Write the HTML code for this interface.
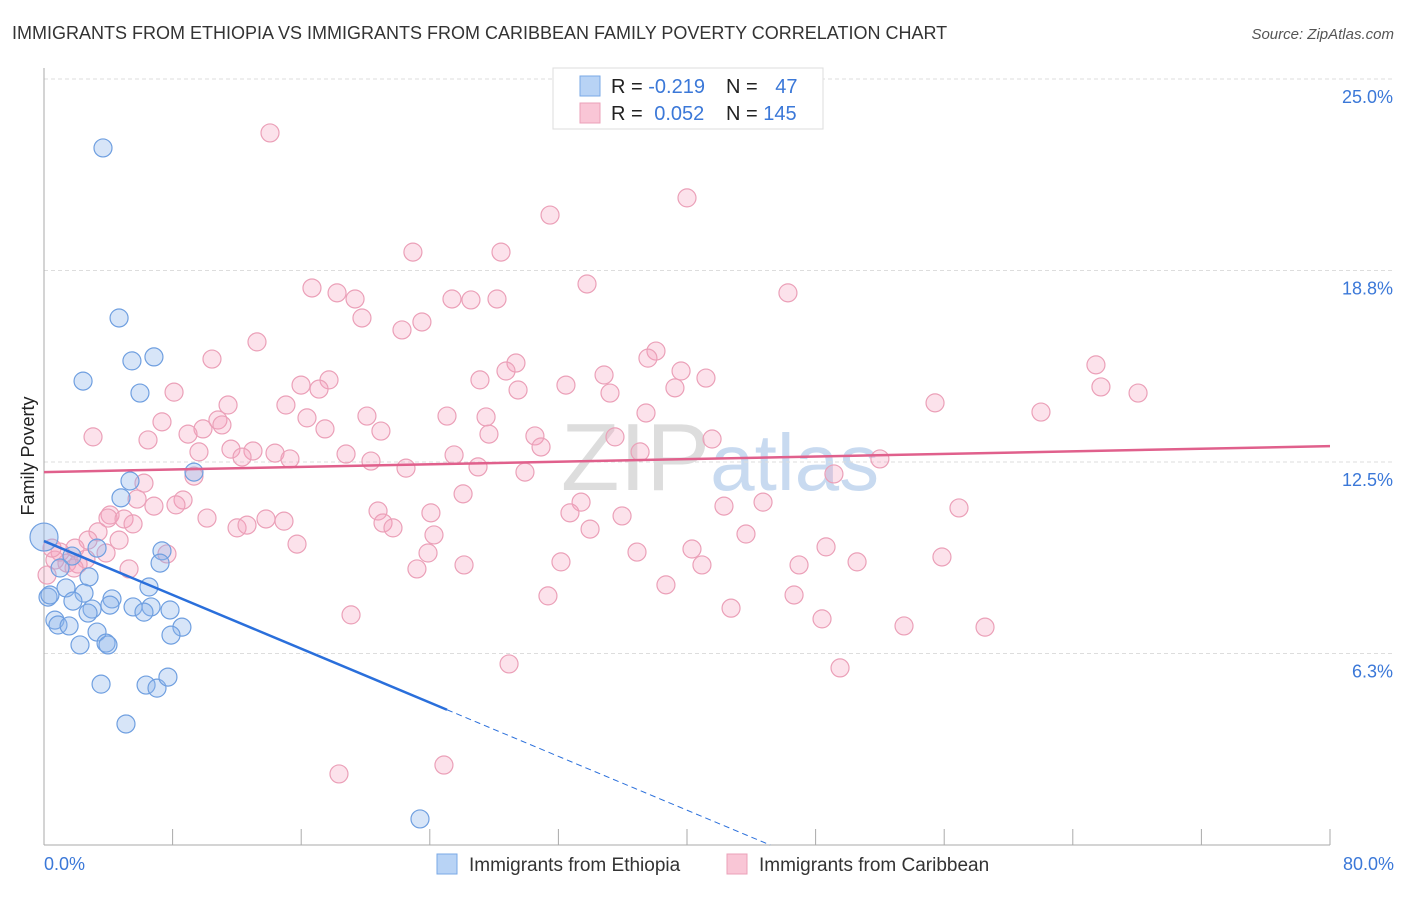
<!DOCTYPE html>
<html><head><meta charset="utf-8"><style>
body{margin:0;background:#fff;font-family:"Liberation Sans",sans-serif;}
svg text{font-family:"Liberation Sans",sans-serif;}
</style></head><body>
<svg width="1406" height="892">
<text x="12" y="39" font-size="18" fill="#333">IMMIGRANTS FROM ETHIOPIA VS IMMIGRANTS FROM CARIBBEAN FAMILY POVERTY CORRELATION CHART</text>
<text x="1394" y="39" font-size="15" fill="#555" font-style="italic" text-anchor="end">Source: ZipAtlas.com</text>
<text x="720" y="490" font-size="96" fill="#ddd" text-anchor="middle" font-family="Liberation Serif">ZIP<tspan fill="#c8daf0" font-family="Liberation Sans" font-size="80">atlas</tspan></text>
<g id="grid"></g>
<g id="axes"></g>
<g id="marks"></g>
<text transform="translate(34,456) rotate(-90)" font-size="18" fill="#222" text-anchor="middle">Family Poverty</text>
<text x="44" y="870" font-size="18" fill="#3b78d8">0.0%</text>
<text x="1394" y="870" font-size="18" fill="#3b78d8" text-anchor="end">80.0%</text>
<g>
<rect x="553" y="68" width="270" height="61" fill="#fff" stroke="#ddd"/>
<rect x="580" y="76" width="20" height="20" fill="#b8d3f5" stroke="#7aa8e6"/>
<rect x="580" y="103" width="20" height="20" fill="#f9c6d6" stroke="#eba0b8"/>
<text x="611" y="93" font-size="20" fill="#222">R = <tspan fill="#3b78d8">-0.219</tspan></text>
<text x="726" y="93" font-size="20" fill="#222">N = <tspan fill="#3b78d8" dx="12">47</tspan></text>
<text x="611" y="120" font-size="20" fill="#222">R = <tspan fill="#3b78d8" dx="6">0.052</tspan></text>
<text x="726" y="120" font-size="20" fill="#222">N = <tspan fill="#3b78d8">145</tspan></text>
</g>
<g>
<rect x="437" y="854" width="20" height="20" fill="#b8d3f5" stroke="#7aa8e6"/>
<text x="469" y="871" font-size="19" fill="#333">Immigrants from Ethiopia</text>
<rect x="727" y="854" width="20" height="20" fill="#f9c6d6" stroke="#eba0b8"/>
<text x="759" y="871" font-size="19" fill="#333">Immigrants from Caribbean</text>
</g>
</svg>
<script>
const yTicks=[6.25,12.5,18.75,25];
const yTickLabels=["6.3%","12.5%","18.8%","25.0%"];
const xTicks=[0,8,16,24,32,40,48,56,64,72,80];
const blueX=[3.67,4.67,2.43,5.47,6.84,5.97,5.35,4.79,9.33,3.3,7.34,1.74,7.22,1.0,2.8,6.53,1.37,0.25,2.49,4.23,1.8,4.1,2.99,5.54,6.66,2.74,6.22,7.84,0.68,0.87,1.56,8.58,3.3,7.9,2.24,3.86,3.98,3.55,6.35,7.03,7.71,5.1,23.39,0.37];
const blueY=[22.75,17.2,15.14,15.8,15.93,14.75,11.88,11.33,12.17,9.69,9.6,9.43,9.2,9.04,8.75,8.42,8.39,8.09,8.22,8.03,7.96,7.83,7.7,7.77,7.77,7.57,7.6,7.67,7.34,7.18,7.15,7.11,6.95,6.85,6.53,6.59,6.53,5.25,5.22,5.12,5.48,3.95,0.85,8.16];
const pinkX=[14.06,40.0,31.48,22.95,28.43,33.78,16.67,18.23,19.35,25.38,26.56,28.18,46.28,19.78,23.51,22.27,13.25,38.07,10.45,37.57,29.36,65.44,28.74,39.63,34.84,27.12,41.18,15.99,17.73,32.47,8.09,17.11,65.75,29.49,35.21,39.25,68.06,11.45,55.43,15.05,62.02,10.82,16.36,20.09,25.07,27.5,37.45,7.34,11.07,9.89,20.96,17.48,8.96,3.05,6.47,27.68,30.54,35.52,41.56,30.92,25.51,11.63,13.0,14.37,12.32,9.64,15.3,18.79,20.34,27.0,37.08,22.52,29.92,52.0,49.14,9.33,6.22,8.65,5.79,8.21,26.07,33.41,6.84,4.11,3.98,4.98,10.14,20.78,44.73,42.3,32.72,24.07,13.81,14.93,56.92,21.09,21.71,5.54,3.36,12.01,12.63,33.97,35.96,24.26,43.67,4.67,2.74,15.74,7.65,1.93,36.89,40.31,48.65,55.86,23.89,1.0,0.68,2.61,1.43,2.12,26.13,32.16,40.93,46.97,50.58,5.29,23.2,0.19,38.69,31.35,46.66,42.74,19.1,48.4,53.5,58.54,28.93,49.52,18.35,24.88,1.87,0.5,3.86];
const pinkY=[23.24,21.12,20.56,19.35,19.35,18.31,18.18,18.02,17.82,17.82,17.79,17.82,18.02,17.2,17.07,16.81,16.42,16.12,15.86,15.89,15.73,15.67,15.47,15.47,15.34,15.18,15.24,15.01,15.18,15.01,14.78,14.88,14.95,14.85,14.75,14.92,14.75,14.36,14.43,14.36,14.13,13.87,13.94,14.0,14.0,13.97,14.1,13.81,13.71,13.58,13.51,13.58,13.41,13.32,13.22,13.41,13.35,13.32,13.25,12.99,12.73,12.92,12.86,12.79,12.66,12.83,12.6,12.76,12.53,12.34,12.83,12.3,12.17,12.6,12.11,12.04,11.81,11.26,11.29,11.1,11.46,11.19,11.06,10.77,10.67,10.64,10.67,10.9,11.19,11.06,10.84,10.84,10.64,10.57,11.0,10.51,10.35,10.48,10.22,10.35,10.44,10.31,10.74,10.12,10.15,9.95,9.95,9.82,9.5,9.69,9.56,9.66,9.73,9.4,9.53,9.56,9.3,9.33,9.2,9.17,9.14,9.24,9.14,9.14,9.24,9.01,9.01,8.81,8.49,8.13,8.16,7.73,7.51,7.38,7.15,7.11,5.91,5.78,2.32,2.61,9.04,9.69,9.53];
const blueTrend=[9.92,-0.2196];
const blueSolidEnd=[25.07];
const pinkTrend=[12.17,0.0106];
const X=v=>44+v*1286/80;
const Y=v=>845-v*191.5/6.25;
const NS="http://www.w3.org/2000/svg";
function mk(parent,tag,attrs){const e=document.createElementNS(NS,tag);for(const k in attrs)e.setAttribute(k,attrs[k]);document.getElementById(parent).appendChild(e);return e;}
yTicks.forEach((t,i)=>{
 const l=mk('grid','line',{x1:44,x2:1394,y1:Y(t),y2:Y(t),stroke:'#ddd','stroke-dasharray':'4,3'});
 
 
 const tx=mk('grid','text',{x:1393,y:Y(t)+24,'font-size':18,fill:'#3b78d8','text-anchor':'end'});
 tx.textContent=yTickLabels[i];
 
 
});
const ya=mk('axes','line',{x1:44,x2:44,y1:68,y2:845,stroke:'#aaa'});


const xa=mk('axes','line',{x1:44,x2:1330,y1:845,y2:845,stroke:'#aaa'});


xTicks.forEach(t=>{
 const l=mk('axes','line',{x1:X(t),x2:X(t),y1:829,y2:845,stroke:'#aaa'});
 
 
});
pinkX.forEach((x,i)=>{
 const c=mk('marks','circle',{cx:X(x),cy:Y(pinkY[i]),r:9,fill:'rgba(244,160,188,0.3)',stroke:'#eba0b8','stroke-width':1.2});
 
 
});
blueX.forEach((x,i)=>{
 const c=mk('marks','circle',{cx:X(x),cy:Y(blueY[i]),r:9,fill:'rgba(140,180,235,0.35)',stroke:'#6f9fe0','stroke-width':1.2});
 
 
});
const big=mk('marks','circle',{cx:X(0),cy:Y(10.05),r:14,fill:'rgba(140,180,235,0.4)',stroke:'#6f9fe0','stroke-width':1.2});


const bx1=blueSolidEnd[0], bx2=-blueTrend[0]/blueTrend[1];
const bl=mk('marks','line',{x1:X(0),y1:Y(blueTrend[0]),x2:X(bx1),y2:Y(blueTrend[0]+blueTrend[1]*bx1),stroke:'#2a6fdb','stroke-width':2.5});


const bd=mk('marks','line',{x1:X(bx1),y1:Y(blueTrend[0]+blueTrend[1]*bx1),x2:X(bx2),y2:Y(0),stroke:'#2a6fdb','stroke-width':1,'stroke-dasharray':'6,4'});


const pl=mk('marks','line',{x1:X(0),y1:Y(pinkTrend[0]),x2:X(80),y2:Y(pinkTrend[0]+pinkTrend[1]*80),stroke:'#e0608c','stroke-width':2.5});


</script>
</body></html>
